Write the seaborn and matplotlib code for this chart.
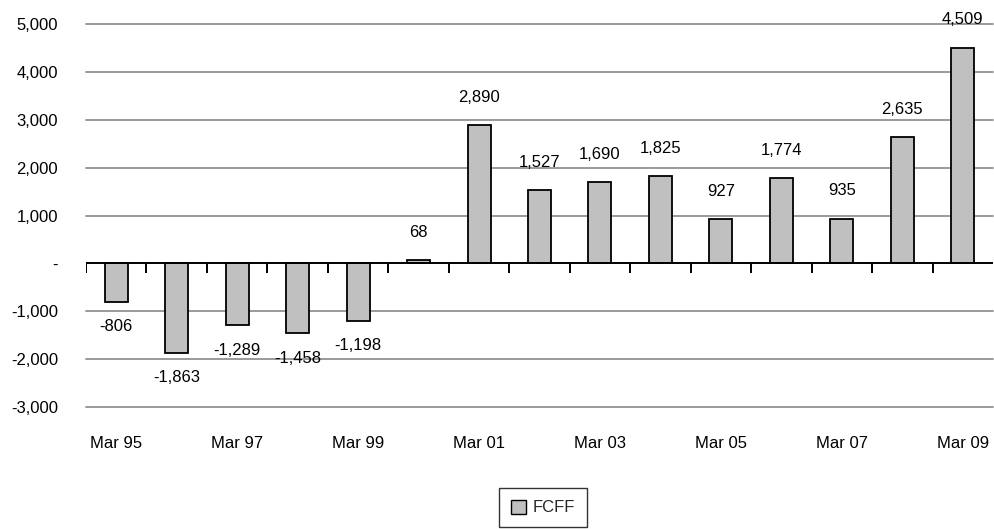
import matplotlib
matplotlib.use("Agg")
import matplotlib.pyplot as plt
import matplotlib.patches as mpatches
import matplotlib.transforms as mtransforms
import numpy as np
import pandas as pd
import seaborn as sns

# Free cash flow to firm by fiscal year
periods = ["Mar 95", "Mar 96", "Mar 97", "Mar 98", "Mar 99", "Mar 00", "Mar 01",
           "Mar 02", "Mar 03", "Mar 04", "Mar 05", "Mar 06", "Mar 07", "Mar 08", "Mar 09"]
fcff = [-806, -1863, -1289, -1458, -1198, 68, 2890, 1527, 1690, 1825, 927, 1774, 935, 2635, 4509]
y_ticks = [-3000, -2000, -1000, 0, 1000, 2000, 3000, 4000, 5000]
y_tick_labels = ["-3,000", "-2,000", "-1,000", "-", "1,000", "2,000", "3,000", "4,000", "5,000"]

df = pd.DataFrame({"period": periods, "FCFF": fcff})

sns.set_theme(style="white")
plt.rcParams["font.family"] = ["Liberation Sans", "DejaVu Sans"]

W, H = 995, 529
fig = plt.figure(figsize=(W / 100, H / 100), dpi=100)
ax = fig.add_axes([86 / W, 1 - 407 / H, (993 - 86) / W, (407 - 24) / H])

sns.barplot(data=df, x="period", y="FCFF", ax=ax, color="#C0C0C0",
            edgecolor="black", linewidth=1.3, width=0.38, saturation=1)
for p in ax.patches:
    p.set_facecolor("#C0C0C0")

n = len(periods)
ax.set_xlim(-0.5, n - 0.5)
ax.set_ylim(-3000, 5000)

# horizontal gridlines
for v in y_ticks:
    if v != 0:
        ax.axhline(v, color="#9a9a9a", lw=1.4, zorder=0, clip_on=False)
ax.axhline(0, color="black", lw=1.4, zorder=3)

# category boundary ticks hanging below the zero line
trans = mtransforms.blended_transform_factory(ax.transData, ax.transAxes)
zero_ax = (0 - (-3000)) / 8000
tick_len = 10 / (407 - 24)
bounds = np.arange(n) - 0.5
ax.vlines(bounds, zero_ax - tick_len, zero_ax, transform=trans, color="black", lw=1.4, zorder=3)

for s in ax.spines.values():
    s.set_visible(False)

ax.set_yticks(y_ticks)
ax.set_yticklabels(y_tick_labels)
ax.tick_params(axis="y", length=0, pad=20, labelsize=12, labelcolor="black")

ax.set_xticks(range(0, n, 2))
ax.set_xticklabels([periods[i] for i in range(0, n, 2)])
ax.tick_params(axis="x", length=0, pad=21, labelsize=12, labelcolor="black")
ax.set_xlabel("")
ax.set_ylabel("")

# value labels
for i, v in enumerate(fcff):
    off = 20 if v >= 0 else -18
    ax.annotate(f"{v:,}", xy=(i, v), xytext=(0, off), textcoords="offset points",
                ha="center", va="center", fontsize=12, color="black", annotation_clip=False)

handle = mpatches.Patch(facecolor="#C0C0C0", edgecolor="black", linewidth=1.0, label="FCFF")
leg = fig.legend(handles=[handle], loc="upper center", bbox_to_anchor=(543 / W, 1 - 488 / H),
                 frameon=True, fancybox=False, edgecolor="black", fontsize=12,
                 handlelength=0.9, handleheight=0.9, handletextpad=0.45, borderpad=0.7,
                 borderaxespad=0)
leg.get_frame().set_linewidth(1.0)

fig.savefig("out.png", dpi=100)
